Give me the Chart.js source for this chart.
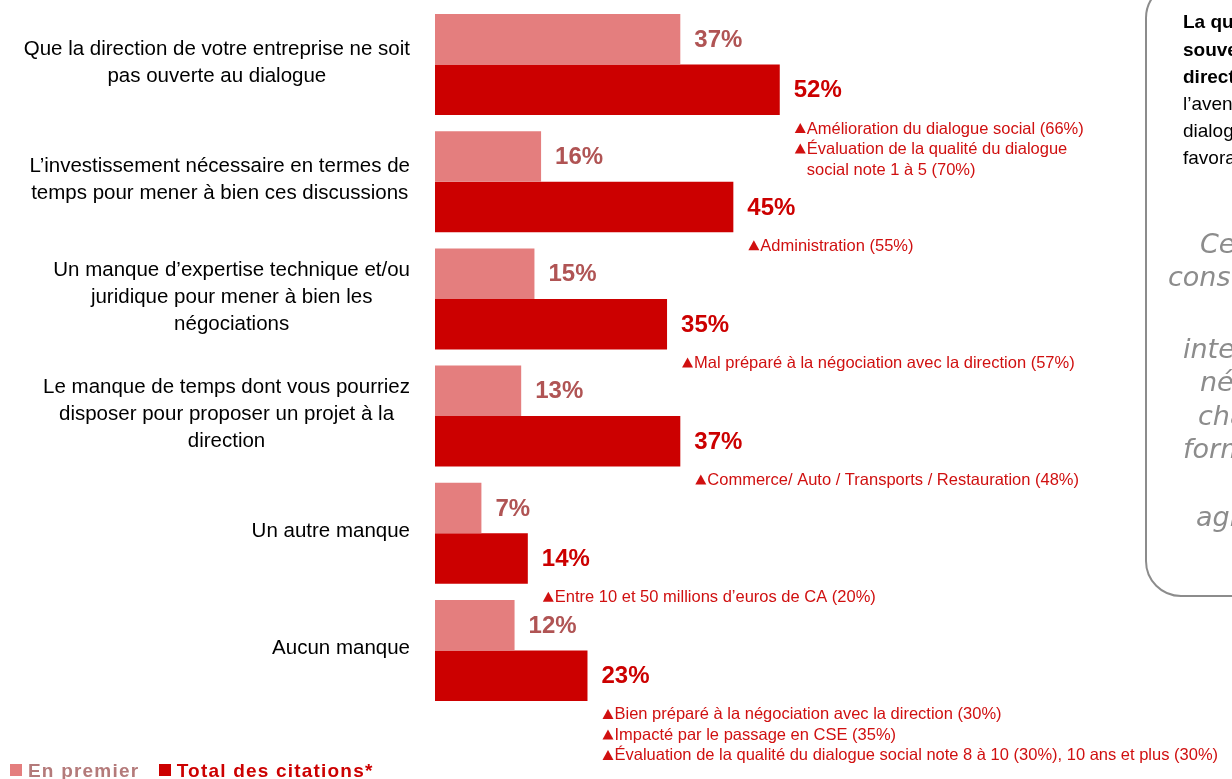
<!DOCTYPE html>
<html lang="fr">
<head>
<meta charset="utf-8">
<script src="https://cdn.jsdelivr.net/npm/chart.js@4.4.1/dist/chart.umd.min.js"></script>
<style>
body{margin:0;width:1232px;height:779px;overflow:hidden;background:#fff;position:relative;font-family:"Liberation Sans",Arial,sans-serif}
#mycanvas{position:absolute;left:0;top:0}
.box{position:absolute;left:1145px;top:-18px;width:320px;height:615px;border:2px solid #8c8c8c;border-radius:36px;box-sizing:border-box}
.t{position:absolute;white-space:pre;font-size:19px;line-height:27px;color:#000}
.b{font-weight:bold}
.i{position:absolute;white-space:pre;font-family:"DejaVu Sans",sans-serif;font-style:italic;font-size:27px;color:#8c8c8c}
.legend{position:absolute;left:10px;top:760px;font-weight:bold;font-size:19px;letter-spacing:1.2px;white-space:pre}
.legend span.sq{display:inline-block;width:12px;height:12px;margin-right:6px;vertical-align:1px}
</style>
</head>
<body>
<canvas id="mycanvas" width="1232" height="779"></canvas>

<div class="box"></div>
<div class="t b" style="left:1183px;top:8px">La question</div>
<div class="t b" style="left:1183px;top:36px">souvent</div>
<div class="t b" style="left:1183px;top:63px">direction</div>
<div class="t" style="left:1183px;top:90px">l’avenir du</div>
<div class="t" style="left:1183px;top:117px">dialogue</div>
<div class="t" style="left:1183px;top:144px">favorable</div>
<div class="i" style="left:1200px;top:228px">Ce</div>
<div class="i" style="left:1168px;top:261px">constat</div>
<div class="i" style="left:1183px;top:333px">interroge sur la</div>
<div class="i" style="left:1200px;top:366px">nécessité</div>
<div class="i" style="left:1198px;top:400px">changer</div>
<div class="i" style="left:1183px;top:433px">format des</div>
<div class="i" style="left:1196px;top:501px">agréments</div>

<div class="legend"><span class="sq" style="background:#e47e7e"></span><span style="color:#b47a7a">En premier</span>   <span class="sq" style="background:#cc0000"></span><span style="color:#cc0000">Total des citations*</span></div>

<script>
var categories = [
	["Que la direction de votre entreprise ne soit", "pas ouverte au dialogue"],
	["L’investissement nécessaire en termes de", "temps pour mener à bien ces discussions"],
	["Un manque d’expertise technique et/ou", "juridique pour mener à bien les", "négociations"],
	["Le manque de temps dont vous pourriez", "disposer pour proposer un projet à la", "direction"],
	["Un autre manque"],
	["Aucun manque"]
];
var enPremier = [37, 16, 15, 13, 7, 12];
var totalCitations = [52, 45, 35, 37, 14, 23];
var notes = [
	["▲Amélioration du dialogue social (66%)", "▲Évaluation de la qualité du dialogue", "social note 1 à 5 (70%)"],
	["▲Administration (55%)"],
	["▲Mal préparé à la négociation avec la direction (57%)"],
	["▲Commerce/ Auto / Transports / Restauration (48%)"],
	["▲Entre 10 et 50 millions d’euros de CA (20%)"],
	["▲Bien préparé à la négociation avec la direction (30%)", "▲Impacté par le passage en CSE (35%)", "▲Évaluation de la qualité du dialogue social note 8 à 10 (30%), 10 ans et plus (30%)"]
];

var textPlugin = {
	id: 'textPlugin',
	afterDatasetsDraw: function(chart) {
		var ctx = chart.ctx;
		var yScale = chart.scales.y;
		ctx.save();
		ctx.textBaseline = 'middle';

		// category labels, right aligned block with centered lines
		ctx.font = '20.5px "Liberation Sans"';
		ctx.fillStyle = '#000';
		ctx.textAlign = 'center';
		for (var i = 0; i < categories.length; i++) {
			var lines = categories[i];
			var w = 0;
			for (var k = 0; k < lines.length; k++) {
				w = Math.max(w, ctx.measureText(lines[k]).width);
			}
			var cx = 410 - w / 2;
			var cy = yScale.getPixelForValue(i) - 2;
			var top = cy - (lines.length - 1) * 27 / 2;
			for (var k = 0; k < lines.length; k++) {
				ctx.fillText(lines[k], cx, top + k * 27);
			}
		}

		// value labels
		ctx.textAlign = 'left';
		ctx.font = 'bold 24px "Liberation Sans"';
		var colors = ['#b05454', '#cc0000'];
		for (var d = 0; d < 2; d++) {
			var meta = chart.getDatasetMeta(d);
			var vals = chart.data.datasets[d].data;
			ctx.fillStyle = colors[d];
			for (var i = 0; i < meta.data.length; i++) {
				var bar = meta.data[i];
				ctx.fillText(vals[i] + '%', bar.x + 14, bar.y + 1);
			}
		}

		// notes under the dark bars
		var meta = chart.getDatasetMeta(1);
		ctx.font = '16.5px "Liberation Sans"';
		ctx.fillStyle = '#d01010';
		for (var i = 0; i < notes.length; i++) {
			var bar = meta.data[i];
			var x0 = bar.x + 15;
			var y0 = bar.y + bar.height / 2 + 14;
			for (var k = 0; k < notes[i].length; k++) {
				var line = notes[i][k];
				var y = y0 + k * 20.5;
				if (line.charAt(0) == '▲') {
					ctx.beginPath();
					ctx.moveTo(x0, y + 4);
					ctx.lineTo(x0 + 11, y + 4);
					ctx.lineTo(x0 + 5.5, y - 6);
					ctx.closePath();
					ctx.fill();
					ctx.fillText(line.substring(1), x0 + 12, y);
				} else {
					ctx.fillText(line, x0 + 12, y);
				}
			}
		}
		ctx.restore();
	}
};

var ctx = document.getElementById('mycanvas');

var barGraph = new Chart(ctx, {
	type: 'bar',
	data: {
		labels: categories,
		datasets: [
			{
				label: 'En premier',
				backgroundColor: '#e47e7e',
				data: enPremier,
				categoryPercentage: 0.862,
				barPercentage: 1
			},
			{
				label: 'Total des citations*',
				backgroundColor: '#cc0000',
				data: totalCitations,
				categoryPercentage: 0.862,
				barPercentage: 1
			}
		]
	},
	options: {
		indexAxis: 'y',
		responsive: false,
		animation: false,
		layout: {
			padding: { left: 435, right: 134, top: 6, bottom: 70 }
		},
		scales: {
			x: { display: false, min: 0, max: 100 },
			y: { display: false }
		},
		plugins: {
			legend: { display: false },
			tooltip: { enabled: false }
		}
	},
	plugins: [textPlugin]
});
</script>
</body>
</html>
